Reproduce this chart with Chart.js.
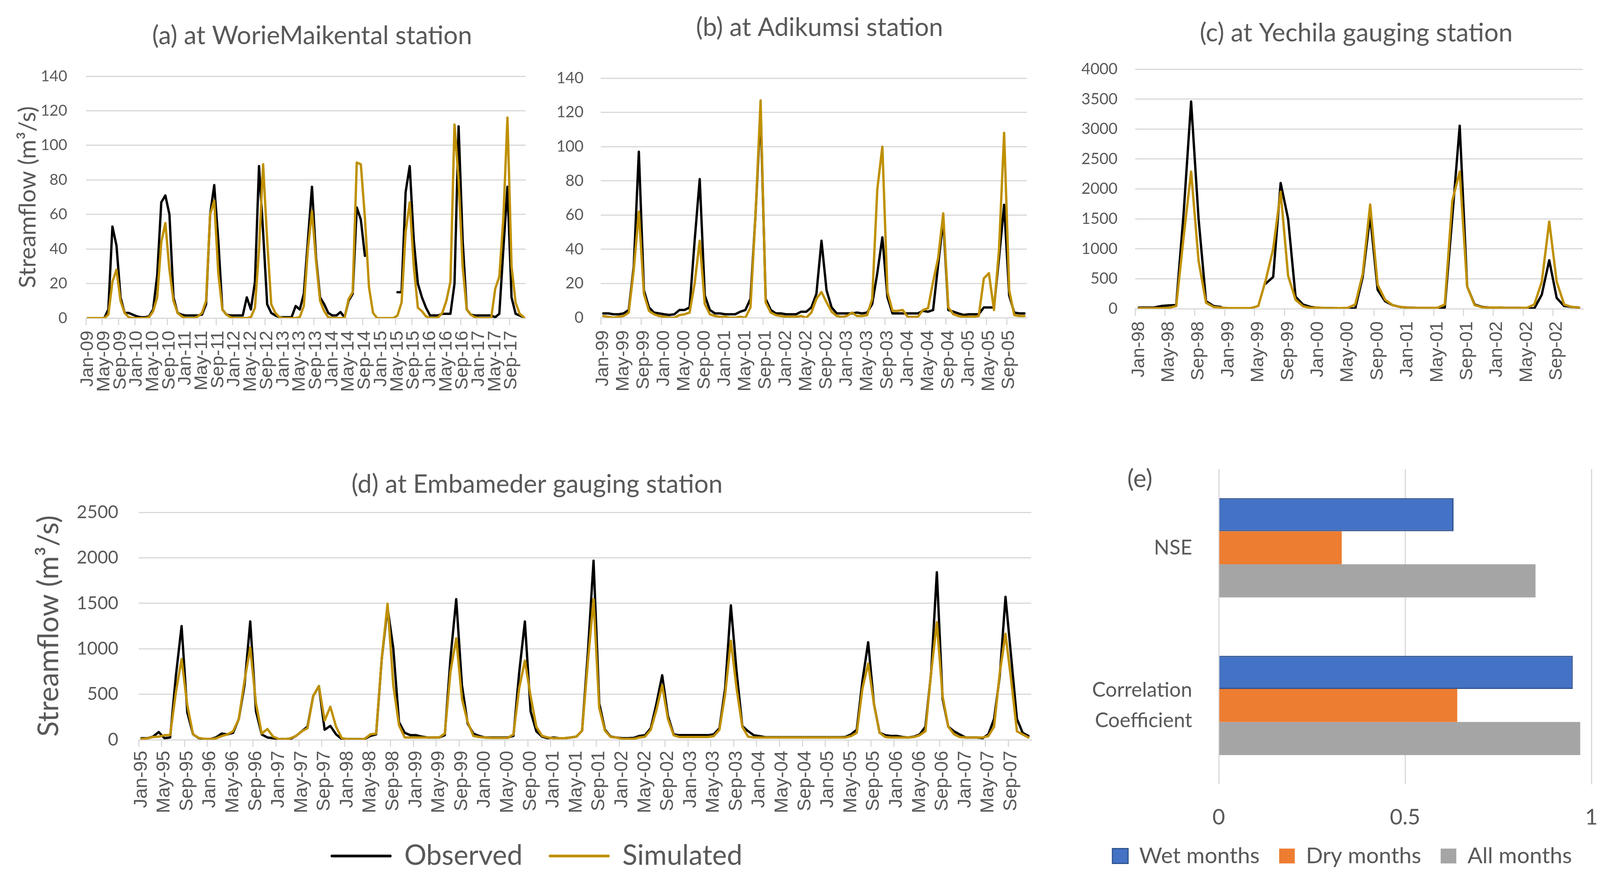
<!DOCTYPE html>
<html><head><meta charset="utf-8">
<script src="https://cdn.jsdelivr.net/npm/chart.js@4.4.1/dist/chart.umd.min.js"></script>
<style>
html,body{margin:0;padding:0;background:#fff;}
body{width:4109px;height:2234px;overflow:hidden;position:relative;}
canvas{position:absolute;}
</style></head>
<body>
<canvas id="ca" style="left:0;top:0" width="1598" height="1060"></canvas>
<canvas id="cb" style="left:1400px;top:0" width="1396" height="1060"></canvas>
<canvas id="cc" style="left:2760px;top:0" width="1424" height="1060"></canvas>
<canvas id="cd" style="left:0;top:1150px" width="2750" height="1086"></canvas>
<canvas id="ce" style="left:2740px;top:1150px" width="1392" height="1079"></canvas>
<script>
// ---------- categories ----------
const MONTHS = ['Jan','Feb','Mar','Apr','May','Jun','Jul','Aug','Sep','Oct','Nov','Dec'];
const YEARS_A = [2009,2010,2011,2012,2013,2014,2015,2016,2017];
const YEARS_B = [1999,2000,2001,2002,2003,2004,2005];
const YEARS_C = [1998,1999,2000,2001,2002];
const YEARS_D = [1995,1996,1997,1998,1999,2000,2001,2002,2003,2004,2005,2006,2007];
function monthLabels(years){const out=[];years.forEach(y=>MONTHS.forEach(m=>out.push(m+'-'+String(y%100).padStart(2,'0'))));return out;}

// ---------- (a) WorieMaikental, m3/s ----------
const obsA = [
 0,0,0,0,0,5,53,42,12,3,3,2,
 1,0.5,0.5,1,5,25,67,71,60,12,3,2,
 1.5,1.5,1.5,1.5,2,8,60,77,45,5,2,1.5,
 1.5,1.5,1.5,12,5,21,88,50,8,3,1.5,0.5,
 0.5,0.5,0.5,7,5,14,45,76,35,12,8,3,
 1.5,1.5,3.5,0.5,10,14,64,57,36,null,null,null,
 null,null,null,null,15,15,73,88,45,20,12,6,
 1.5,1.5,1.5,2.5,2.5,2.5,20,111,45,5,2,1.5,
 1.5,1.5,1.5,1.5,0.5,2.5,40,76,12,2.5,1.5,0.5];
const simA = [
 0,0,0,0,0,2,21,28,10,3,0.5,0,
 0,0,0,0.5,4,12,44,55,28,10,3,1,
 0,0,0,1,3,10,60,68,26,5,2,0.5,
 0,0,0,0,0.5,6,40,89,45,8,3,0.5,
 0,0,0,0,0.5,7,40,62,33,10,4,0.5,
 0,0,0,0,11,15,90,89,58,18,3,0,
 0,0,0,0,1.5,9,50,67,30,6,4,1,
 0,0,0.5,3,10,21,112,80,30,5,2,0.5,
 0,0,0,0,17,24,58,116,30,9,2.5,0.5];

// ---------- (b) Adikumsi, m3/s ----------
const obsB = [
 2.5,2.5,2,2,2.5,4.5,30,97,16,6,3,2.5,
 2,1.6,2,4.5,4.5,6,45,81,13,4.5,2.5,2.5,
 2,2,2,3.5,4.5,11,60,121,11,4.5,2.5,2.5,
 2,2,2,3.5,3.5,6,14,45,16,6,2.5,2.5,
 2.5,2.5,3,2.5,3,8,26,47,12,2.5,2.5,2.5,
 2.5,2.5,2.5,4,3.5,4.5,31,57,4.5,3.5,2.5,1.6,
 2,2,2,6,6,6,35,66,13,3,2.5,2.5];
const simB = [
 1,0.5,0,0.5,1,3,28,62,14,4,2,1,
 0.5,0,0,1.5,2,3,20,45,8,2,1,0.5,
 0.5,0,0,0.5,0,6,60,127,9,3,1.5,1,
 0.5,0.5,0.5,1,0,3,11,15,9,3.5,1,0.5,
 1,3,1,1,1.5,11,75,100,15,4,4,4.5,
 0.5,0.5,0.5,4.5,5.5,21,35,61,6,2,1,0.5,
 0.5,0.5,1,23,26,4.5,40,108,16,1.5,1,1];

// ---------- (c) Yechila, m3/s ----------
const obsC = [
 20,20,20,45,55,60,1600,3460,1500,125,45,30,
 null,null,null,null,null,420,530,2100,1500,200,70,30,
 15,10,10,5,5,5,530,1550,315,125,60,30,
 20,15,10,10,10,20,1520,3055,370,70,30,20,
 20,15,15,15,10,5,235,810,180,45,30,20];
const simC = [
 10,10,10,10,15,45,1200,2290,800,100,30,20,
 10,10,10,10,45,475,1000,1953,550,150,40,15,
 20,10,10,10,15,70,580,1740,400,150,60,30,
 20,15,15,15,15,70,1800,2290,370,60,25,20,
 20,15,15,15,15,70,450,1456,450,70,30,20];

// ---------- (d) Embameder, m3/s ----------
const obsD = [
 17,17,34,85,17,25,700,1250,300,60,17,8,
 8,25,68,59,76,228,600,1300,312,59,25,17,
 8,8,8,42,93,143,480,590,110,152,59,8,
 8,8,8,8,42,59,900,1450,1005,194,76,50,
 50,34,25,25,25,50,900,1545,600,177,68,42,
 25,25,25,25,25,42,735,1300,312,93,34,17,
 25,17,17,25,34,100,950,1968,400,110,34,25,
 17,17,20,42,50,127,400,709,262,59,50,50,
 50,50,50,50,59,127,565,1478,750,150,95,50,
 40,28,28,28,28,28,28,28,28,28,28,28,
 28,28,28,30,59,110,650,1072,397,76,50,42,
 42,30,25,34,59,143,735,1841,450,143,93,59,
 25,25,25,17,59,228,700,1571,903,228,76,42];
const simD = [
 10,15,30,34,50,50,520,887,380,60,20,10,
 10,15,40,59,93,228,650,1013,400,68,118,34,
 8,8,15,42,93,127,480,590,211,363,143,17,
 8,8,8,10,59,68,900,1495,600,160,25,25,
 25,25,25,25,25,68,750,1115,450,194,42,30,
 25,20,20,20,20,59,565,870,480,143,42,25,
 17,17,17,25,34,100,850,1545,350,100,30,25,
 10,10,10,25,34,110,330,600,230,50,30,30,
 30,30,30,30,40,110,500,1089,565,143,34,25,
 25,25,25,25,25,25,25,25,25,25,25,25,
 25,25,25,25,40,76,565,836,397,76,30,25,
 25,25,25,30,50,93,735,1292,480,143,60,30,
 25,25,25,25,40,143,735,1165,650,93,59,25];

// ---------- (e) performance ----------
const E_CATS = ['NSE', ['Correlation','Coefficient']];
const E_SERIES = ['Wet months','Dry months','All months'];
const E_WET = [0.63, 0.95];
const E_DRY = [0.33, 0.64];
const E_ALL = [0.85, 0.97];

const SERIES_NAMES = ['Observed','Simulated'];
const OBS_COLOR = '#000000', SIM_COLOR = '#BF9000';
const GRID = '#D9D9D9', TXT = '#595959';

Chart.defaults.font.family = 'Lato';
Chart.defaults.color = TXT;

function noPad(s){s.paddingTop=0;s.paddingBottom=0;s.paddingLeft=0;s.paddingRight=0;}
function spacer(w){
  return {type:'linear', position:'right', display:true, grid:{display:false}, border:{display:false},
    ticks:{display:false}, afterFit:(s)=>{s.width=w; noPad(s);}};
}

function lineChart(id, labels, obs, sim, c){
  return new Chart(document.getElementById(id), {
    type:'line',
    data:{labels, datasets:[
      {label:SERIES_NAMES[1], data:sim, borderColor:SIM_COLOR, backgroundColor:SIM_COLOR, borderWidth:6, pointRadius:0, tension:0, spanGaps:false, borderJoinStyle:'round', borderCapStyle:'round'},
      {label:SERIES_NAMES[0], data:obs, borderColor:OBS_COLOR, backgroundColor:OBS_COLOR, borderWidth:6, pointRadius:0, tension:0, spanGaps:false, borderJoinStyle:'round', borderCapStyle:'round'}
    ]},
    options:{
      responsive:false, animation:false, devicePixelRatio:1,
      layout:{padding:0},
      plugins:{
        tooltip:{enabled:false},
        title:{display:true, text:c.title, color:TXT, font:{size:c.tFont, weight:'normal', lineHeight:1.2}, padding:{top:c.tTop, bottom:c.tBot}},
        legend: c.legend ? {display:true, position:'bottom', reverse:true,
          labels:{boxWidth:150, boxHeight:1, padding:c.legPad, color:TXT, font:{size:c.legFont}}} : {display:false}
      },
      scales:{
        x:{type:'category', offset:true,
          grid:{offset:true, drawOnChartArea:false, tickLength:18, lineWidth:3, color:GRID,
            tickColor:(ctx)=> (ctx.index%4===0 ? GRID : 'rgba(0,0,0,0)')},
          border:{display:true, color:GRID, width:3},
          ticks:{autoSkip:false, maxRotation:90, minRotation:90, padding:c.xPad, color:TXT,
            font:{family:'Liberation Sans', size:c.xFont},
            callback:function(v,i){return i%4===0 ? this.getLabelForValue(v) : '';}},
          afterFit:(s)=>{s.height=c.xH; noPad(s);}
        },
        y:{min:0, max:c.max,
          ticks:{stepSize:c.step, padding:c.yPad, color:TXT, font:{size:c.yFont}, callback:(v)=>String(v)},
          grid:{color:GRID, lineWidth:3, drawTicks:false},
          border:{display:false},
          title: c.yTitle ? {display:true, text:'Streamflow (m³/s)', color:TXT, font:{size:c.yTitleFont, lineHeight:1.2}, padding:{top:c.yTitlePad, bottom:0}} : {display:false},
          afterFit:(s)=>{s.width=c.yW; noPad(s);}
        },
        yR: spacer(c.padR)
      }
    }
  });
}

lineChart('ca', monthLabels(YEARS_A), obsA, simA, {title:'(a) at WorieMaikental station', tFont:65, tTop:53, tBot:64,
  padR:252, xH:246, yW:220, max:140, step:20, yPad:48, yFont:39, xFont:47, xPad:14, yTitle:true, yTitleFont:60, yTitlePad:36});
lineChart('cb', monthLabels(YEARS_B), obsB, simB, {title:'(b) at Adikumsi station', tFont:65, tTop:32, tBot:90,
  padR:167, xH:247, yW:138, max:140, step:20, yPad:44, yFont:40, xFont:47, xPad:14});
lineChart('cc', monthLabels(YEARS_C), obsC, simC, {title:'(c) at Yechila gauging station', tFont:65, tTop:46, tBot:53,
  padR:132, xH:270, yW:146, max:4000, step:500, yPad:45, yFont:40, xFont:47, xPad:14});
lineChart('cd', monthLabels(YEARS_D), obsD, simD, {title:'(d) at Embameder gauging station', tFont:65, tTop:51, tBot:32,
  padR:110, xH:192, yW:355, max:2500, step:500, yPad:52, yFont:46, xFont:48, xPad:10, yTitle:true, yTitleFont:73, yTitlePad:82,
  legend:true, legPad:70, legFont:71});

// (e) bar chart
const ePanelLabel = {
  id:'ePanelLabel',
  afterDraw(chart){
    const {ctx, chartArea} = chart;
    ctx.save();
    ctx.font = '64px Lato'; ctx.fillStyle = TXT; ctx.textAlign='center'; ctx.textBaseline='middle';
    ctx.fillText('(e)', chartArea.left - 202, chartArea.top + 26);
    ctx.restore();
  }
};
new Chart(document.getElementById('ce'), {
  type:'bar',
  data:{labels:E_CATS, datasets:[
    {label:E_SERIES[0], data:E_WET, backgroundColor:'#4472C4', borderColor:'#2F528F', borderWidth:3},
    {label:E_SERIES[1], data:E_DRY, backgroundColor:'#ED7D31', borderColor:'#ED7D31', borderWidth:0},
    {label:E_SERIES[2], data:E_ALL, backgroundColor:'#A5A5A5', borderColor:'#A5A5A5', borderWidth:0}
  ]},
  options:{
    indexAxis:'y', responsive:false, animation:false, devicePixelRatio:1,
    datasets:{bar:{categoryPercentage:0.63, barPercentage:1.0}},
    layout:{padding:{top:50, right:0, left:0, bottom:0}},
    plugins:{
      tooltip:{enabled:false}, title:{display:false},
      legend:{display:true, position:'bottom', labels:{boxWidth:40, boxHeight:38, padding:50, color:TXT, font:{size:57}}}
    },
    scales:{
      x:{min:0, max:1, ticks:{stepSize:0.5, padding:51, color:TXT, font:{size:56}, callback:(v)=>String(v)},
        grid:{color:GRID, lineWidth:3, drawTicks:false}, border:{display:false},
        afterFit:(s)=>{s.height=105; noPad(s);}},
      y:{grid:{display:false}, border:{display:false},
        ticks:{padding:60, color:TXT, font:{size:52, lineHeight:1.5}},
        afterFit:(s)=>{s.width=380; noPad(s);}},
      yR: spacer(58)
    }
  },
  plugins:[ePanelLabel]
});
</script>
</body></html>
